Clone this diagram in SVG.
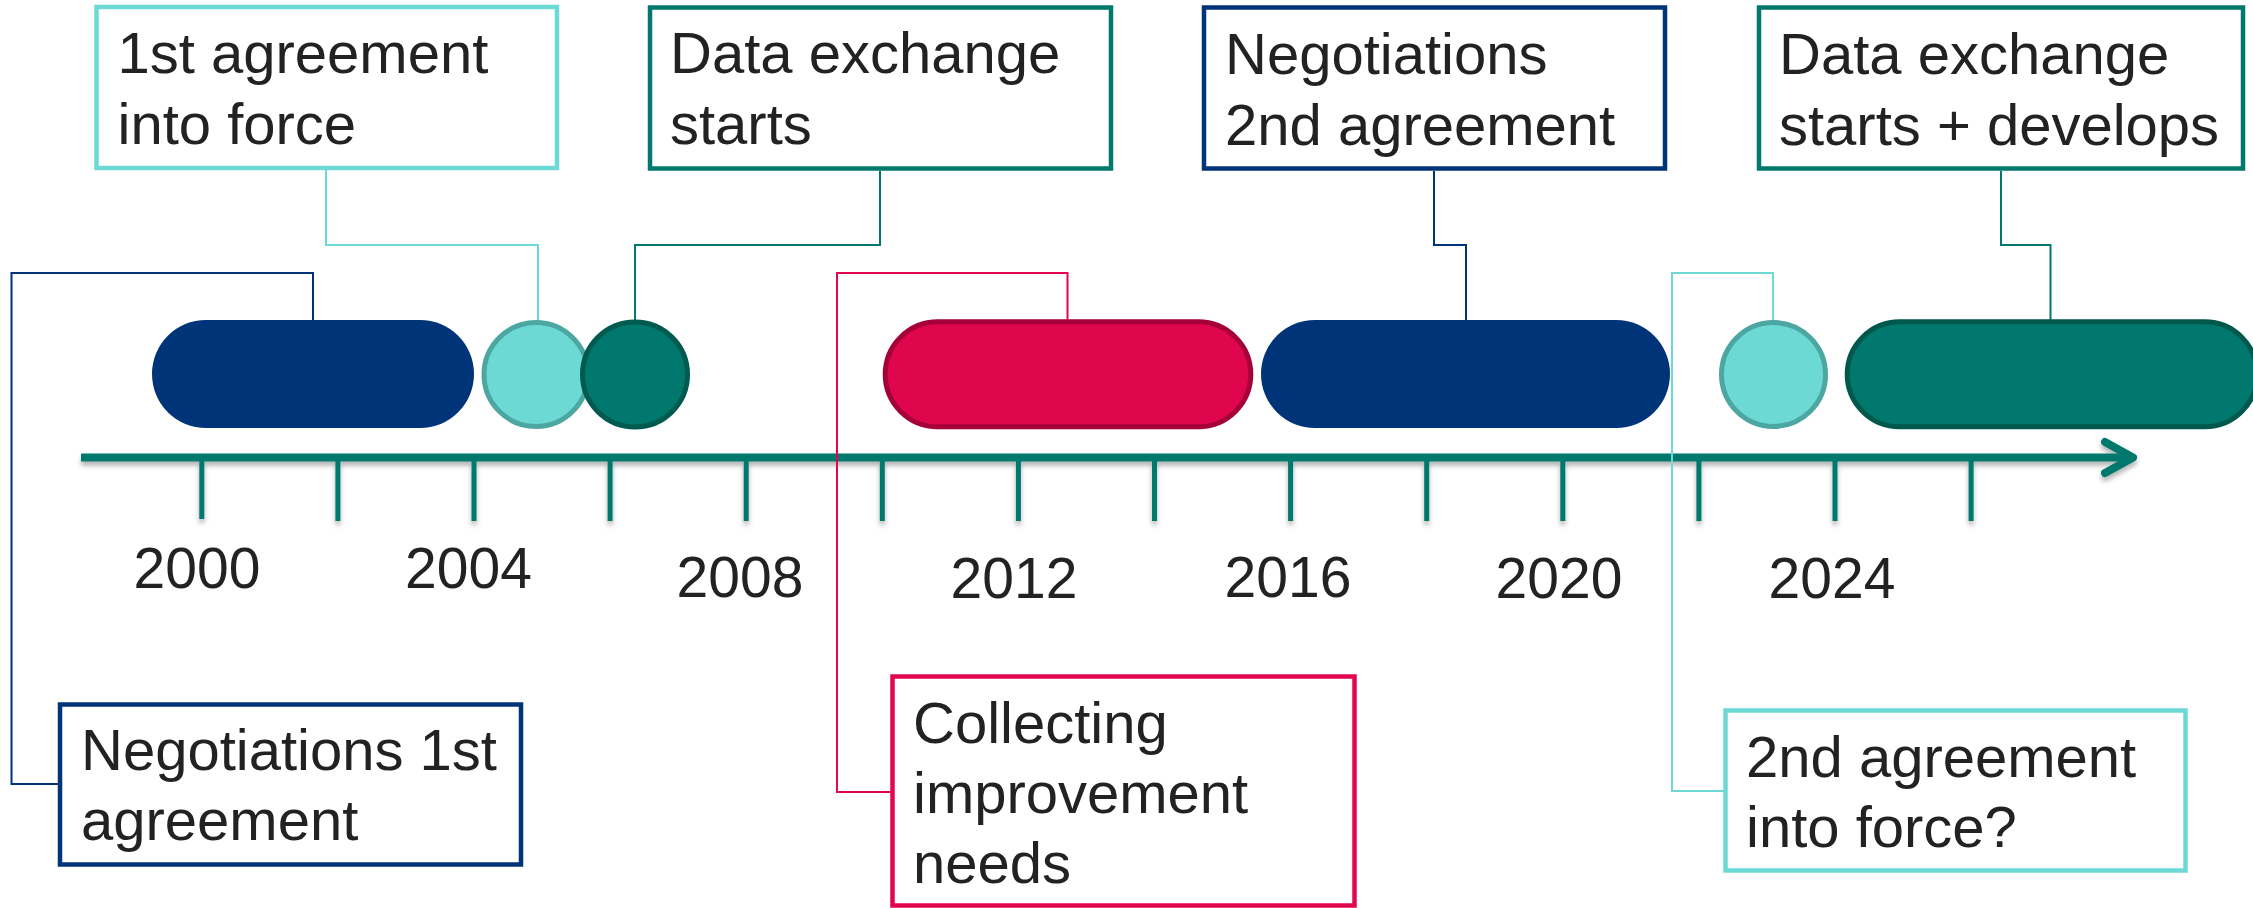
<svg xmlns="http://www.w3.org/2000/svg" width="2253" height="908" viewBox="0 0 2253 908">
<defs>
<style>
text{font-family:"Liberation Sans",Arial,sans-serif;font-size:58px;fill:#222222}
.yr{font-size:57px;text-anchor:middle}
.box{fill:#ffffff;stroke-width:4.5}
.c{fill:none;stroke-width:2}
.navy{stroke:#003478}
.lt{stroke:#6DD9D6}
.dk{stroke:#00786D}
.red{stroke:#E2064F}
.tick{stroke:#00786D;stroke-width:5}
</style>
<filter id="sh" x="-5%" y="-50%" width="110%" height="200%">
<feDropShadow dx="0" dy="4" stdDeviation="2.5" flood-color="#000000" flood-opacity="0.3"/>
</filter>
</defs>
<rect width="2253" height="908" fill="#ffffff"/>

<g id="axis" filter="url(#sh)">
<line x1="81" y1="457.5" x2="2130" y2="457.5" stroke="#00786D" stroke-width="8"/>
<polyline points="2105,442 2133,457.5 2105,473" fill="none" stroke="#00786D" stroke-width="8" stroke-linecap="round" stroke-linejoin="round"/>
<line class="tick" x1="201.8" y1="460" x2="201.8" y2="519"/>
<line class="tick" x1="337.9" y1="460" x2="337.9" y2="521"/>
<line class="tick" x1="474" y1="460" x2="474" y2="521"/>
<line class="tick" x1="610.1" y1="460" x2="610.1" y2="521"/>
<line class="tick" x1="746.2" y1="460" x2="746.2" y2="521"/>
<line class="tick" x1="882.3" y1="460" x2="882.3" y2="521"/>
<line class="tick" x1="1018.4" y1="460" x2="1018.4" y2="521"/>
<line class="tick" x1="1154.5" y1="460" x2="1154.5" y2="521"/>
<line class="tick" x1="1290.6" y1="460" x2="1290.6" y2="521"/>
<line class="tick" x1="1426.7" y1="460" x2="1426.7" y2="521"/>
<line class="tick" x1="1562.8" y1="460" x2="1562.8" y2="521"/>
<line class="tick" x1="1698.9" y1="460" x2="1698.9" y2="521"/>
<line class="tick" x1="1835" y1="460" x2="1835" y2="521"/>
<line class="tick" x1="1971.1" y1="460" x2="1971.1" y2="521"/>
</g>
<g id="years">
<text class="yr" x="197" y="588">2000</text>
<text class="yr" x="468.5" y="588">2004</text>
<text class="yr" x="740" y="597">2008</text>
<text class="yr" x="1014" y="598">2012</text>
<text class="yr" x="1288" y="597">2016</text>
<text class="yr" x="1559" y="598">2020</text>
<text class="yr" x="1832" y="598">2024</text>
</g>

<g id="connectors">
<path class="c navy" d="M60,784 H11.5 V273 H313 V320"/>
<path class="c lt" d="M326,170 V245 H538 V320"/>
<path class="c dk" d="M880,171 V245 H635 V320"/>
<path class="c red" d="M892,792 H837 V273 H1067.5 V320"/>
<path class="c navy" d="M1434,171 V245 H1466 V320"/>
<path class="c lt" d="M1725,791 H1672 V273 H1773 V320"/>
<path class="c dk" d="M2001,171 V245 H2050.5 V320"/>
</g>

<g id="bar-negotiations-1">
<rect x="152" y="320" width="322" height="108" rx="54" fill="#003478"/>
</g>
<g id="dot-agreement-1">
<circle cx="536" cy="374.5" r="52" fill="#6CD9D5" stroke="#4CA6A2" stroke-width="5"/>
</g>
<g id="dot-exchange-1">
<circle cx="635" cy="374.5" r="52.5" fill="#00786D" stroke="#005A50" stroke-width="5"/>
</g>
<g id="bar-collecting">
<rect x="885.2" y="321.8" width="365.6" height="105" rx="52.5" fill="#E0064E" stroke="#A5003A" stroke-width="5"/>
</g>
<g id="bar-negotiations-2">
<rect x="1261" y="320" width="409" height="108" rx="54" fill="#003478"/>
</g>
<g id="dot-agreement-2">
<circle cx="1773.5" cy="374.5" r="52" fill="#6CD9D5" stroke="#4CA6A2" stroke-width="5"/>
</g>
<g id="bar-exchange-2">
<rect x="1847.2" y="321.8" width="410" height="105" rx="52.5" fill="#00786D" stroke="#00574C" stroke-width="5"/>
</g>

<g id="box-agreement-1">
<rect class="box lt" x="96.5" y="7" width="460.5" height="161"/>
<text x="117.5" y="73">1st agreement</text>
<text x="117.5" y="144">into force</text>
</g>
<g id="box-exchange-1">
<rect class="box dk" x="650" y="7.5" width="461" height="161"/>
<text x="670" y="73">Data exchange</text>
<text x="670" y="144">starts</text>
</g>
<g id="box-negotiations-2">
<rect class="box navy" x="1204" y="7.5" width="461" height="161"/>
<text x="1225" y="74">Negotiations</text>
<text x="1225" y="145">2nd agreement</text>
</g>
<g id="box-exchange-2">
<rect class="box dk" x="1759" y="7.5" width="484" height="161"/>
<text x="1779" y="74">Data exchange</text>
<text x="1779" y="145">starts + develops</text>
</g>
<g id="box-negotiations-1">
<rect class="box navy" x="60" y="704.5" width="461" height="160"/>
<text x="81" y="770">Negotiations 1st</text>
<text x="81" y="840">agreement</text>
</g>
<g id="box-collecting">
<rect class="box red" x="892.5" y="676.5" width="462" height="229"/>
<text x="913" y="743">Collecting</text>
<text x="913" y="813">improvement</text>
<text x="913" y="883">needs</text>
</g>
<g id="box-agreement-2">
<rect class="box lt" x="1725.5" y="710.5" width="460" height="160"/>
<text x="1746" y="777">2nd agreement</text>
<text x="1746" y="847">into force?</text>
</g>
</svg>
